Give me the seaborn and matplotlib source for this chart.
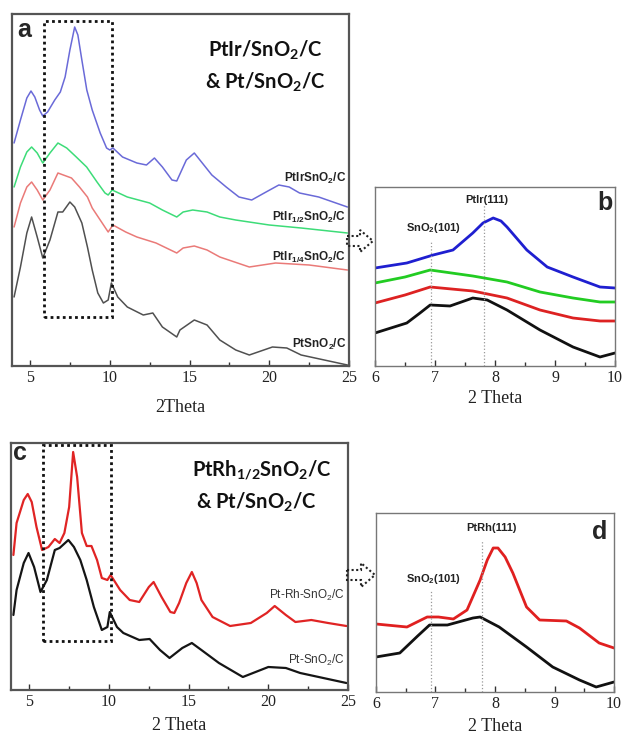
import numpy as np
import pandas as pd
import matplotlib
matplotlib.use("Agg")
import matplotlib.pyplot as plt
from matplotlib import font_manager
from matplotlib.patches import Polygon, Rectangle
import seaborn as sns

# ---------------- data (intensity in a.u.) ----------------
# Panel a
a_blue_x = [4.0, 4.4, 4.8, 5.06, 5.3, 5.6, 5.8, 6.1, 6.55, 6.9, 7.2, 7.5, 7.8, 8.0, 8.25, 8.56, 8.9,
            9.4, 9.8, 10.0, 10.2, 10.8, 11.7, 12.3, 12.8, 13.3, 13.9, 14.2, 14.8, 15.3, 15.8, 16.4,
            17.3, 18.1, 18.9, 19.8, 20.6, 21.25, 21.9, 23.1, 24.9]
a_blue_y = [223, 246, 268, 275, 269, 256, 250, 254, 266, 274, 289, 316, 339, 331, 306, 276, 256,
            233, 218, 216, 218, 209, 203, 201, 208, 199, 186, 185, 206, 213, 203, 191,
            179, 169, 166, 174, 181, 179, 173, 169, 159]
a_green_x = [4.0, 4.4, 4.8, 5.1, 5.45, 5.8, 6.25, 6.75, 7.3, 7.9, 8.55, 9.2, 9.7, 9.9, 10.15, 11.1,
             12.5, 13.3, 14.2, 14.6, 15.2, 16.1, 16.9, 17.9, 20.0, 22.0, 24.9]
a_green_y = [179, 199, 214, 219, 213, 203, 213, 223, 218, 209, 199, 184, 173, 171, 176, 169,
             163, 156, 149, 154, 156, 154, 149, 146, 141, 138, 133]
a_red_x = [4.0, 4.4, 4.8, 5.1, 5.45, 5.8, 6.25, 6.75, 7.6, 8.1, 8.6, 8.9, 9.4, 9.9, 10.2, 11.0, 11.7,
           12.9, 14.2, 14.6, 15.3, 16.1, 16.9, 18.75, 20.4, 22.5, 24.9]
a_red_y = [139, 163, 179, 184, 176, 166, 176, 193, 188, 179, 169, 158, 146, 134, 141, 134, 129,
           123, 113, 118, 120, 116, 109, 99, 103, 101, 96]
a_black_x = [4.0, 4.4, 4.8, 5.1, 5.45, 5.8, 6.25, 6.75, 7.05, 7.5, 7.8, 8.25, 8.6, 8.9, 9.25, 9.6,
             9.9, 10.1, 10.5, 11.1, 12.1, 12.7, 13.3, 14.2, 14.4, 15.3, 16.1, 16.9, 17.9, 18.75,
             20.2, 21.1, 22.0, 24.9]
a_black_y = [69, 99, 133, 149, 129, 108, 126, 154, 154, 164, 159, 143, 119, 96, 73, 63,
             66, 83, 69, 59, 51, 53, 39, 29, 36, 46, 41, 26, 16, 11,
             19, 18, 11, 1]
a_names = ["PtIrSnO$_{\\mathregular{2}}$/C",
           "PtIr$_{\\mathregular{1/2}}$SnO$_{\\mathregular{2}}$/C",
           "PtIr$_{\\mathregular{1/4}}$SnO$_{\\mathregular{2}}$/C",
           "PtSnO$_{\\mathregular{2}}$/C"]

# Panel b
b_blue_x = [6.0, 6.53, 6.97, 7.3, 7.63, 7.8, 7.97, 8.1, 8.2, 8.53, 8.87, 9.3, 9.75, 10.0]
b_blue_y = [98, 103, 111, 116, 133, 143, 148, 145, 139, 116, 99, 89, 79, 78]
b_green_x = [6.0, 6.5, 6.92, 7.63, 8.2, 8.75, 9.3, 9.75, 10.0]
b_green_y = [83, 89, 96, 90, 84, 74, 68, 64, 64]
b_red_x = [6.0, 6.5, 6.92, 7.63, 8.2, 8.75, 9.3, 9.75, 10.0]
b_red_y = [63, 71, 79, 75, 68, 56, 48, 45, 45]
b_black_x = [6.0, 6.53, 6.75, 6.92, 7.25, 7.63, 7.87, 8.2, 8.75, 9.3, 9.75, 10.0]
b_black_y = [33, 43, 53, 61, 60, 68, 66, 56, 36, 19, 9, 13]
b_ref_x = [6.93, 7.82]
b_ref_top = [124, 161]

# Panel c
c_red_x = [4.0, 4.2, 4.65, 4.9, 5.15, 5.45, 5.8, 6.2, 6.6, 6.9, 7.2, 7.5, 7.75, 8.0, 8.3, 8.6, 8.9,
           9.25, 9.55, 9.9, 10.1, 10.7, 11.3, 11.9, 12.5, 12.8, 13.3, 13.85, 14.1, 14.4, 14.85,
           15.2, 15.5, 15.8, 16.5, 17.6, 18.9, 19.9, 20.4, 21.1, 21.7, 22.7, 23.75, 24.9]
c_red_y = [135, 167, 190, 196, 188, 163, 140, 143, 151, 147, 157, 183, 238, 213, 157, 144, 144,
           130, 112, 110, 115, 100, 90, 88, 103, 108, 93, 78, 77, 87, 107,
           118, 107, 90, 73, 64, 67, 77, 84, 75, 68, 70, 67, 64]
c_black_x = [4.0, 4.2, 4.65, 4.95, 5.3, 5.7, 6.1, 6.6, 6.9, 7.45, 7.8, 8.2, 8.6, 9.05, 9.55, 9.9,
             10.05, 10.5, 10.9, 11.9, 12.55, 13.2, 13.8, 14.6, 15.2, 15.8, 16.9, 18.4, 20.0, 21.1,
             22.0, 24.9]
c_black_y = [75, 100, 127, 137, 123, 98, 110, 140, 142, 150, 143, 130, 110, 83, 60, 63,
             78, 63, 57, 50, 51, 40, 32, 42, 47, 40, 27, 13, 23, 22,
             17, 7]
c_names = ["Pt-Rh-SnO$_{\\mathregular{2}}$/C", "Pt-SnO$_{\\mathregular{2}}$/C"]

# Panel d
d_red_x = [6.0, 6.52, 6.86, 7.05, 7.3, 7.53, 7.75, 7.87, 7.97, 8.05, 8.17, 8.3, 8.53, 8.75, 9.2,
           9.42, 9.75, 10.0]
d_red_y = [68, 65, 75, 75, 73, 82, 112, 132, 144, 144, 135, 119, 85, 72, 71, 64, 49, 44]
d_black_x = [6.0, 6.4, 6.7, 6.9, 7.2, 7.63, 7.75, 8.07, 8.53, 8.97, 9.42, 9.7, 10.0]
d_black_y = [35, 39, 56, 67, 67, 74, 75, 65, 45, 25, 12, 5, 10]
d_ref_x = [6.92, 7.78]
d_ref_top = [102, 152]

# ---------------- style ----------------
sns.set_style("ticks")
avail = {f.name for f in font_manager.fontManager.ttflist}
SANS = "Liberation Sans" if "Liberation Sans" in avail else "DejaVu Sans"
NARROW = "Liberation Sans Narrow" if "Liberation Sans Narrow" in avail else SANS
SERIF = "Liberation Serif" if "Liberation Serif" in avail else "DejaVu Serif"
TITLE = "Lato" if "Lato" in avail else SANS
plt.rcParams["font.family"] = [SANS, "DejaVu Sans"]
plt.rcParams["lines.solid_joinstyle"] = "round"
plt.rcParams["lines.solid_capstyle"] = "round"

W, H = 622, 737
fig = plt.figure(figsize=(W / 100, H / 100), dpi=100)
fig.patch.set_facecolor("white")


def P(x, y):
    return (x / W, 1 - y / H)


def add_ax(l, t, r, b):
    return fig.add_axes([l / W, 1 - b / H, (r - l) / W, (b - t) / H])


def style_ax(ax, xlim, ylim, major, minor, lw, col):
    ax.set_xlim(*xlim)
    ax.set_ylim(*ylim)
    ax.set_yticks([])
    ax.set_xticks(major)
    ax.set_xticks(minor, minor=True)
    ax.tick_params(axis="x", which="both", direction="in", top=False, colors="#333",
                   labelcolor="#222", labelsize=11.5, pad=3, width=1)
    ax.tick_params(axis="x", which="major", length=4)
    ax.tick_params(axis="x", which="minor", length=3)
    for lab in ax.get_xticklabels():
        lab.set_fontfamily(SERIF)
    for s in ax.spines.values():
        s.set_visible(True)
        s.set_linewidth(lw)
        s.set_color(col)
    ax.set_ylabel("")


def curve(ax, xs, ys, color, lw):
    df = pd.DataFrame({"x": xs, "y": ys})
    sns.lineplot(data=df, x="x", y="y", ax=ax, color=color, linewidth=lw, sort=False,
                 estimator=None)


# ---------------- panel a ----------------
ax_a = add_ax(12, 14, 349, 366)
cols_a = ["#6a6ad8", "#3ddc78", "#ea7a78", "#505050"]
for xs, ys, c in zip([a_blue_x, a_green_x, a_red_x, a_black_x],
                     [a_blue_y, a_green_y, a_red_y, a_black_y], cols_a):
    curve(ax_a, xs, ys, c, 1.1)
style_ax(ax_a, (3.87, 25.0), (0, 352), [5, 10, 15, 20, 25], [7.5, 12.5, 17.5, 22.5], 1.6, "#555")
ax_a.add_patch(Rectangle((5.85, 49), 10.12 - 5.85, 345 - 49, fill=False, ls=(0, (1, 1.2)),
                         lw=2.0, ec="#111", zorder=5))
ax_a.set_xlabel("2Theta", fontfamily=SERIF, fontsize=13, labelpad=9, color="#222")

# ---------------- panel b ----------------
ax_b = add_ax(375, 187, 615, 366)
cols_b = ["#1f1fd0", "#22cc22", "#dd2222", "#111111"]
for xs, ys, c in zip([b_blue_x, b_green_x, b_red_x, b_black_x],
                     [b_blue_y, b_green_y, b_red_y, b_black_y], cols_b):
    curve(ax_b, xs, ys, c, 2.0)
for xv, top in zip(b_ref_x, b_ref_top):
    ax_b.plot([xv, xv], [0, top], ls=":", color="#999", lw=0.9)
style_ax(ax_b, (6, 10), (0, 179), [6, 7, 8, 9, 10], [6.5, 7.5, 8.5, 9.5], 1.0, "#777")
ax_b.set_xlabel("2 Theta", fontfamily=SERIF, fontsize=13, labelpad=3, color="#222")

# ---------------- panel c ----------------
ax_c = add_ax(11, 443, 348, 690)
cols_c = ["#e02424", "#151515"]
for xs, ys, c in zip([c_red_x, c_black_x], [c_red_y, c_black_y], cols_c):
    curve(ax_c, xs, ys, c, 1.6)
style_ax(ax_c, (3.85, 25.0), (0, 247), [5, 10, 15, 20, 25], [7.5, 12.5, 17.5, 22.5], 1.6, "#555")
ax_c.add_patch(Rectangle((5.85, 49), 10.12 - 5.85, 245 - 49, fill=False, ls=(0, (1, 1.2)),
                         lw=2.0, ec="#111", zorder=5))
ax_c.set_xlabel("2 Theta", fontfamily=SERIF, fontsize=13, labelpad=5, color="#222")

# ---------------- panel d ----------------
ax_d = add_ax(376, 513, 614, 692)
for xs, ys, c in zip([d_red_x, d_black_x], [d_red_y, d_black_y], ["#e02020", "#111111"]):
    curve(ax_d, xs, ys, c, 2.0)
for xv, top in zip(d_ref_x, d_ref_top):
    ax_d.plot([xv, xv], [0, top], ls=":", color="#999", lw=0.9)
style_ax(ax_d, (6, 10), (0, 179), [6, 7, 8, 9, 10], [6.5, 7.5, 8.5, 9.5], 1.0, "#777")
ax_d.set_xlabel("2 Theta", fontfamily=SERIF, fontsize=13, labelpad=4, color="#222")

# ---------------- texts ----------------
fig.text(*P(24, 30), "a", fontsize=18, fontweight="bold", ha="center", va="center", family=SANS)
fig.text(*P(265, 50), "PtIr/SnO$_{\\mathregular{2}}$/C", fontsize=14.5, fontweight="bold",
         ha="center", va="center", family=TITLE, color="#111")
fig.text(*P(265, 82), "& Pt/SnO$_{\\mathregular{2}}$/C", fontsize=14.5, fontweight="bold",
         ha="center", va="center", family=TITLE, color="#111")
for name, yy in zip(a_names, [178, 217, 257, 344]):
    fig.text(*P(346, yy), name, fontsize=8.5, fontweight="bold", ha="right", va="center",
             family=NARROW, color="#222")

fig.text(*P(605, 203), "b", fontsize=18, fontweight="bold", ha="center", va="center", family=SANS)
fig.text(*P(433, 228), "SnO$_{\\mathregular{2}}$(101)", fontsize=8, fontweight="bold",
         ha="center", va="center", family=NARROW, color="#222")
fig.text(*P(487, 200), "PtIr(111)", fontsize=8, fontweight="bold", ha="center", va="center",
         family=NARROW, color="#222")

fig.text(*P(20, 453), "c", fontsize=18, fontweight="bold", ha="center", va="center", family=SANS)
fig.text(*P(262, 470), "PtRh$_{\\mathregular{1/2}}$SnO$_{\\mathregular{2}}$/C", fontsize=14.5,
         fontweight="bold", ha="center", va="center", family=TITLE, color="#111")
fig.text(*P(256, 502), "& Pt/SnO$_{\\mathregular{2}}$/C", fontsize=14.5, fontweight="bold",
         ha="center", va="center", family=TITLE, color="#111")
for name, yy in zip(c_names, [595, 660]):
    fig.text(*P(345, yy), name, fontsize=8.5, ha="right", va="center", family=NARROW,
             color="#333")

fig.text(*P(600, 532), "d", fontsize=18, fontweight="bold", ha="center", va="center", family=SANS)
fig.text(*P(433, 579), "SnO$_{\\mathregular{2}}$(101)", fontsize=8, fontweight="bold",
         ha="center", va="center", family=NARROW, color="#222")
fig.text(*P(491, 528), "PtRh(111)", fontsize=8, fontweight="bold", ha="center", va="center",
         family=NARROW, color="#222")


# ---------------- dotted hollow arrows ----------------
def hollow_arrow(x0, x1, yc, hb, hh, xh):
    pts = [P(x0, yc - hb), P(xh, yc - hb), P(xh, yc - hh), P(x1, yc), P(xh, yc + hh),
           P(xh, yc + hb), P(x0, yc + hb)]
    fig.patches.append(Polygon(pts, closed=True, fill=False, ls=(0, (1, 1.2)), lw=1.5,
                               ec="#222", transform=fig.transFigure, figure=fig))


hollow_arrow(347, 373, 241, 5, 11, 360)
hollow_arrow(347, 375, 575, 5, 12, 361)

fig.savefig("out.png", dpi=100, facecolor="white")
